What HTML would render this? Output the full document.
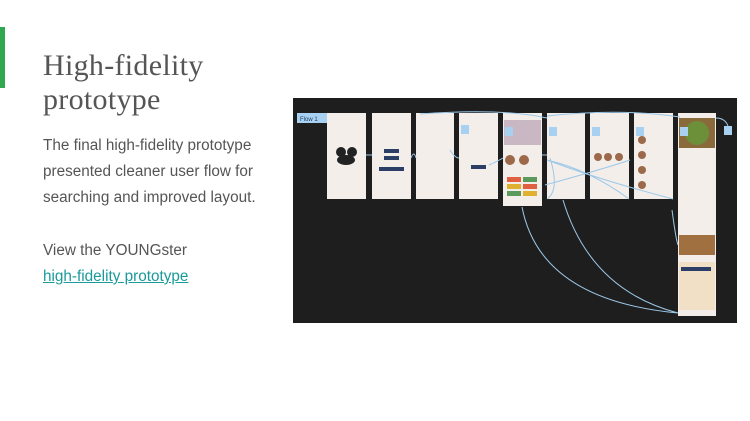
<!DOCTYPE html>
<html><head><meta charset="utf-8"><style>
html,body{margin:0;padding:0;background:#fff;width:750px;height:421px;overflow:hidden;position:relative}
.bar{position:absolute;left:0;top:27px;width:5px;height:61px;background:#2fa84f}
h1{position:absolute;left:43px;top:49px;margin:0;font:400 30px/34px "Liberation Serif",serif;color:#555;letter-spacing:0.3px}
p{position:absolute;left:43px;margin:0;font:400 15.3px/26px "Liberation Sans",sans-serif;color:#555}
a{color:#1a9a9a;text-decoration:underline}
svg{position:absolute;left:0;top:0}
</style></head><body>
<div class="bar"></div>
<h1>High-fidelity<br>prototype</h1>
<p style="top:133px">The final high-fidelity prototype<br>presented cleaner user flow for<br>searching and improved layout.</p>
<p style="top:238px">View the YOUNGster<br><a>high-fidelity prototype</a></p>
<svg width="750" height="421">
<rect x="293" y="98" width="444" height="225" fill="#1e1e1e"/>
<g fill="#f3eeea">
<rect x="327" y="113" width="39" height="86"/>
<rect x="372" y="113" width="39" height="86"/>
<rect x="416" y="113" width="38" height="86"/>
<rect x="459" y="113" width="39" height="86"/>
<rect x="503" y="113" width="39" height="93"/>
<rect x="547" y="113" width="38" height="86"/>
<rect x="590" y="113" width="39" height="86"/>
<rect x="634" y="113" width="39" height="86"/>
<rect x="678" y="113" width="38" height="203"/>
</g>
<rect x="504" y="120" width="37" height="25" fill="#c9b7c4"/>
<rect x="679" y="118" width="36" height="30" fill="#8a6a3a"/>
<circle cx="697" cy="133" r="12" fill="#6c8f3a"/>
<rect x="679" y="235" width="36" height="20" fill="#a07040"/>
<rect x="679" y="262" width="36" height="48" fill="#f1dfc6"/>
<g fill="#e06040"><rect x="507" y="177" width="14" height="5"/><rect x="523" y="177" width="14" height="5" fill="#5a9a5a"/><rect x="507" y="184" width="14" height="5" fill="#e0b030"/><rect x="523" y="184" width="14" height="5"/><rect x="507" y="191" width="14" height="5" fill="#5a9a5a"/><rect x="523" y="191" width="14" height="5" fill="#e0b030"/></g>
<g fill="#2b3f66"><rect x="384" y="149" width="15" height="4"/><rect x="384" y="156" width="15" height="4"/><rect x="379" y="167" width="25" height="4"/><rect x="471" y="165" width="15" height="4"/><rect x="681" y="267" width="30" height="4"/></g>
<g fill="#222"><circle cx="341" cy="152" r="5"/><circle cx="352" cy="152" r="5"/><ellipse cx="346" cy="160" rx="9" ry="5"/></g>
<g fill="#9c6a4a"><circle cx="510" cy="160" r="5"/><circle cx="524" cy="160" r="5"/><circle cx="598" cy="157" r="4"/><circle cx="608" cy="157" r="4"/><circle cx="619" cy="157" r="4"/><circle cx="642" cy="140" r="4"/><circle cx="642" cy="155" r="4"/><circle cx="642" cy="170" r="4"/><circle cx="642" cy="185" r="4"/></g>
<rect x="297" y="113" width="30" height="10" fill="#a8d0f0"/>
<text x="300" y="121" font-family="Liberation Sans" font-size="6" fill="#1e3a5a">Flow 1</text>
<g fill="#a8d0f0"><rect x="461" y="125" width="8" height="9"/><rect x="505" y="127" width="8" height="9"/><rect x="549" y="127" width="8" height="9"/><rect x="592" y="127" width="8" height="9"/><rect x="636" y="127" width="8" height="9"/><rect x="680" y="127" width="8" height="9"/><rect x="724" y="126" width="8" height="9"/></g>
<g fill="none" stroke="#9cc8e8" stroke-width="1">
<path d="M366 155 L372 155 M411 158 Q414 150 416 158 M450 150 Q455 158 459 158 M489 165 Q500 160 503 158 M542 155 L547 155"/>
<path d="M420 114 Q500 108 547 118 M547 116 Q620 108 680 117 M716 118 Q725 118 728 126"/>
<path d="M547 160 Q590 170 629 199 M547 160 Q600 180 673 199 M550 158 Q560 190 547 199 M545 185 Q600 170 630 160"/>
<path d="M522 207 Q540 300 678 313 M563 200 Q590 290 678 313 M672 210 Q676 240 678 245"/>
</g>
</svg>
</body></html>
